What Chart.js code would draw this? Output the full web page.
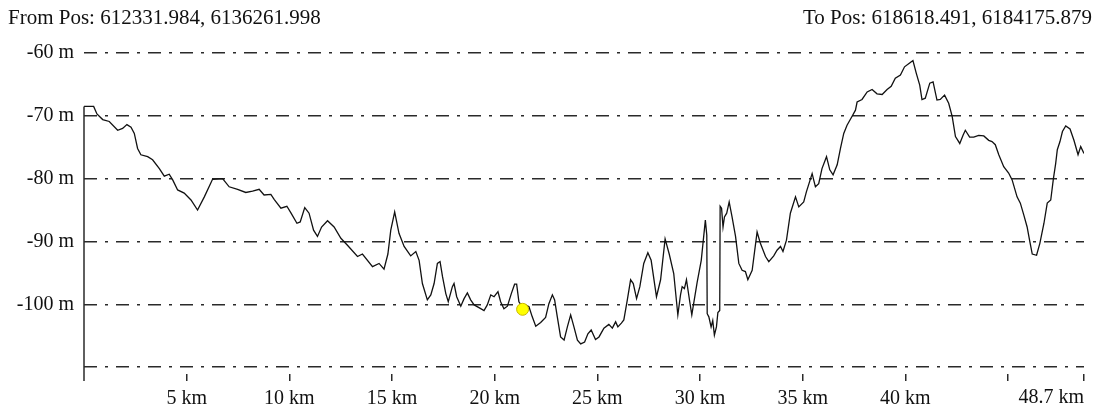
<!DOCTYPE html>
<html>
<head>
<meta charset="utf-8">
<script src="https://cdn.jsdelivr.net/npm/chart.js@4/dist/chart.umd.min.js"></script>
<style>
    html, body {
        margin: 0;
        padding: 0;
        background: #ffffff;
    }

    #wrap {
        width: 1101px;
        height: 407px;
        position: relative;
    }
</style>
</head>
<body>
<div id="wrap">
    <canvas id="graficoPerfil"></canvas>
</div>
<script>

const fromLabel =
    "From Pos: 612331.984, 6136261.998";

const toLabel =
    "To Pos: 618618.491, 6184175.879";

const distanciasKm = [
    0.0, 0.47, 0.63, 0.91, 1.23, 1.64, 1.88, 2.09, 2.29, 2.45,
    2.61, 2.77, 3.10, 3.34, 3.67, 3.91, 4.15, 4.32, 4.56, 4.88,
    5.21, 5.53, 5.86, 6.26, 6.75, 7.07, 7.48, 7.88, 8.21, 8.53,
    8.77, 9.10, 9.26, 9.59, 9.88, 10.07, 10.37, 10.53, 10.75, 10.96,
    11.18, 11.37, 11.57, 11.86, 12.18, 12.51, 12.83, 13.32, 13.56, 14.05,
    14.37, 14.61, 14.80, 14.94, 15.13, 15.34, 15.59, 15.91, 16.16, 16.32,
    16.48, 16.72, 16.89, 17.05, 17.21, 17.34, 17.46, 17.62, 17.74, 17.94,
    18.02, 18.15, 18.35, 18.51, 18.67, 18.83, 19.00, 19.32, 19.48, 19.64,
    19.81, 19.97, 20.16, 20.29, 20.45, 20.62, 20.81, 20.97, 21.07, 21.18,
    21.35, 21.51, 21.67, 21.83, 22.00, 22.24, 22.48, 22.64, 22.81, 22.92,
    23.05, 23.21, 23.38, 23.54, 23.70, 23.86, 24.03, 24.19, 24.38, 24.54,
    24.70, 24.91, 25.08, 25.32, 25.56, 25.73, 25.89, 26.00, 26.17, 26.29,
    26.46, 26.62, 26.75, 26.91, 27.07, 27.26, 27.46, 27.62, 27.88, 28.08,
    28.30, 28.50, 28.72, 28.92, 29.05, 29.13, 29.24, 29.34, 29.50, 29.60,
    29.86, 30.06, 30.26, 30.33, 30.35, 30.43, 30.54, 30.62, 30.70, 30.80,
    30.87, 30.96, 30.98, 31.05, 31.12, 31.19, 31.30, 31.42, 31.56, 31.73,
    31.89, 32.05, 32.21, 32.33, 32.54, 32.78, 32.94, 33.19, 33.35, 33.59,
    33.75, 33.92, 34.04, 34.21, 34.40, 34.65, 34.81, 35.05, 35.18, 35.46,
    35.62, 35.78, 35.94, 36.16, 36.32, 36.48, 36.68, 36.84, 37.00, 37.16,
    37.40, 37.57, 37.65, 37.89, 38.14, 38.38, 38.62, 38.87, 39.11, 39.31,
    39.51, 39.76, 39.96, 40.21, 40.37, 40.53, 40.70, 40.81, 40.97, 41.19,
    41.35, 41.54, 41.70, 41.91, 42.11, 42.28, 42.44, 42.65, 42.81, 42.92,
    43.13, 43.33, 43.57, 43.82, 44.06, 44.22, 44.38, 44.55, 44.79, 45.03,
    45.20, 45.44, 45.60, 45.77, 45.93, 46.06, 46.18, 46.39, 46.55, 46.75,
    46.91, 47.08, 47.21, 47.32, 47.40, 47.53, 47.65, 47.81, 48.02, 48.21,
    48.41, 48.54, 48.70
];

const profundidades = [
    -68.5, -68.5, -69.7, -70.6, -70.9, -72.3, -72.0, -71.4, -71.8, -72.8,
    -75.2, -76.2, -76.5, -77.0, -78.4, -79.6, -79.3, -80.2, -81.8, -82.3,
    -83.4, -85.0, -82.9, -80.1, -80.0, -81.3, -81.7, -82.2, -82.0, -81.7,
    -82.6, -82.5, -83.3, -84.7, -84.4, -85.4, -87.1, -86.9, -84.6, -85.5,
    -88.2, -89.2, -87.7, -86.7, -87.7, -89.5, -90.6, -92.4, -92.0, -94.0,
    -93.5, -94.4, -92.0, -88.2, -85.3, -88.7, -90.8, -92.3, -91.6, -93.0,
    -96.7, -99.3, -98.5, -96.7, -93.5, -93.2, -95.6, -98.3, -99.6, -97.2,
    -96.7, -98.8, -100.3, -99.1, -98.2, -99.3, -100.1, -100.7, -101.0, -100.1,
    -98.5, -98.8, -98.0, -99.6, -100.7, -100.3, -98.3, -96.8, -96.8, -99.6,
    -100.4, -100.1, -100.4, -102.0, -103.5, -102.9, -102.1, -99.9, -98.5, -99.3,
    -102.0, -105.2, -105.7, -103.6, -101.7, -103.6, -105.7, -106.3, -106.0, -104.7,
    -104.1, -105.6, -105.2, -103.8, -103.2, -103.8, -102.8, -103.6, -103.0, -102.5,
    -99.3, -96.1, -96.7, -99.1, -97.2, -93.5, -91.8, -93.0, -98.8, -96.1,
    -89.6, -92.0, -95.1, -101.7, -98.5, -97.2, -97.5, -96.1, -99.6, -101.7,
    -96.5, -93.0, -86.6, -89.0, -101.5, -102.0, -103.6, -102.6, -104.9, -103.6,
    -101.3, -101.0, -84.4, -84.7, -87.7, -86.1, -85.5, -83.7, -86.1, -89.2,
    -93.5, -94.6, -94.8, -96.1, -94.6, -88.5, -90.3, -92.4, -93.2, -92.3,
    -91.4, -90.8, -91.6, -89.8, -85.5, -82.9, -84.5, -83.7, -82.1, -79.2,
    -81.3, -80.8, -78.4, -76.5, -78.6, -79.4, -77.8, -75.2, -72.8, -71.5,
    -70.1, -69.1, -67.8, -67.4, -66.2, -65.8, -66.5, -66.6, -65.8, -65.3,
    -64.0, -63.5, -62.2, -61.6, -61.2, -63.2, -65.1, -67.4, -67.2, -64.8,
    -64.6, -67.5, -67.4, -66.7, -68.0, -70.1, -73.3, -74.4, -73.1, -72.3,
    -73.4, -73.4, -73.1, -73.2, -73.9, -74.1, -74.6, -76.2, -78.1, -79.1,
    -80.2, -82.9, -83.9, -85.8, -87.7, -90.0, -92.0, -92.2, -90.3, -87.1,
    -83.9, -83.4, -80.0, -77.6, -75.4, -74.1, -72.5, -71.6, -72.1, -73.9,
    -76.2, -74.9, -76.0
];

// posição marcada (ponto amarelo)
const marcadorKm = [21.36];
const marcadorProf = [-100.8];

const ticksKm = [5, 10, 15, 20, 25, 30, 35, 40, 45, 48.7];
const ticksProf = [-110, -100, -90, -80, -70, -60];

const fonteTexto =
    "'Liberation Serif', 'Times New Roman', serif";

const corTexto = "#111111";
const corGrade = "#2a2a2a";

const pluginDecoracao = {

    id: "decoracao",

    afterDraw(chart) {

        const ctx = chart.ctx;
        const area = chart.chartArea;
        const escalaX = chart.scales.x;
        const escalaY = chart.scales.y;

        ctx.save();

        // eixo esquerdo: do primeiro ponto até abaixo da área
        ctx.strokeStyle = corGrade;
        ctx.lineWidth = 1.5;
        ctx.beginPath();
        ctx.moveTo(
            escalaX.getPixelForValue(distanciasKm[0]),
            escalaY.getPixelForValue(profundidades[0])
        );
        ctx.lineTo(
            escalaX.getPixelForValue(distanciasKm[0]),
            area.bottom + 7
        );
        ctx.stroke();

        ctx.fillStyle = corTexto;
        ctx.textBaseline = "alphabetic";
        ctx.textAlign = "left";

        ctx.font = "21px " + fonteTexto;
        ctx.fillText(fromLabel, 8, 24);
        ctx.fillText(toLabel, 803, 24);

        // último rótulo, alinhado à direita no fim do eixo
        const ultimo =
            ticksKm[ticksKm.length - 1];

        ctx.font = "20px " + fonteTexto;
        ctx.textAlign = "right";
        ctx.textBaseline = "top";
        ctx.fillText(
            ultimo + " km",
            escalaX.getPixelForValue(ultimo),
            area.bottom + 14
        );

        ctx.restore();
    }
};

const canvas =
    document.getElementById("graficoPerfil");

new Chart(canvas, {

    type: "scatter",

    data: {

        datasets: [
            {
                label: "Marcador",

                data: marcadorKm.map(
                    (x, i) => ({ x, y: marcadorProf[i] })
                ),

                pointRadius: 6,

                pointBackgroundColor: "#ffff00",

                pointBorderColor: "#c9b800",

                pointBorderWidth: 1,

                showLine: false,

                order: 0
            },
            {
                label: "Perfil",

                data: distanciasKm.map(
                    (x, i) => ({ x, y: profundidades[i] })
                ),

                showLine: true,

                borderColor: "#111111",

                borderWidth: 1.3,

                pointRadius: 0,

                tension: 0,

                order: 1
            }
        ]
    },

    options: {

        responsive: true,

        maintainAspectRatio: false,

        animation: false,

        layout: {

            autoPadding: false,

            padding: {
                top: 53,
                right: 17,
                bottom: 0,
                left: 0
            }
        },

        plugins: {

            legend: { display: false },

            tooltip: { enabled: false }
        },

        scales: {

            x: {

                type: "linear",

                min: 0,

                max: 48.7,

                afterFit: scale => {
                    scale.height = 33;
                },

                afterBuildTicks: scale => {
                    scale.ticks =
                        ticksKm.map(v => ({ value: v }));
                },

                border: { display: false },

                grid: {

                    drawOnChartArea: false,

                    drawTicks: true,

                    tickLength: 7,

                    color: corGrade,

                    lineWidth: 1.5
                },

                ticks: {

                    autoSkip: false,

                    maxRotation: 0,

                    padding: 6,

                    color: corTexto,

                    font: {
                        family: fonteTexto,
                        size: 20
                    },

                    callback: v =>
                        (v === 45 || v === 48.7)
                            ? ""
                            : v + " km"
                }
            },

            y: {

                type: "linear",

                min: -111.1,

                max: -60,

                afterFit: scale => {
                    scale.width = 84;
                },

                afterBuildTicks: scale => {
                    scale.ticks =
                        ticksProf.map(v => ({ value: v }));
                },

                border: {

                    display: false,

                    dash: [13, 8, 3, 8]
                },

                grid: {

                    drawTicks: false,

                    color: corGrade,

                    lineWidth: 1.4
                },

                ticks: {

                    padding: 10,

                    color: corTexto,

                    font: {
                        family: fonteTexto,
                        size: 20
                    },

                    callback: v =>
                        v === -110
                            ? ""
                            : v + " m"
                }
            }
        }
    },

    plugins: [pluginDecoracao]
});
</script>
</body>
</html>
